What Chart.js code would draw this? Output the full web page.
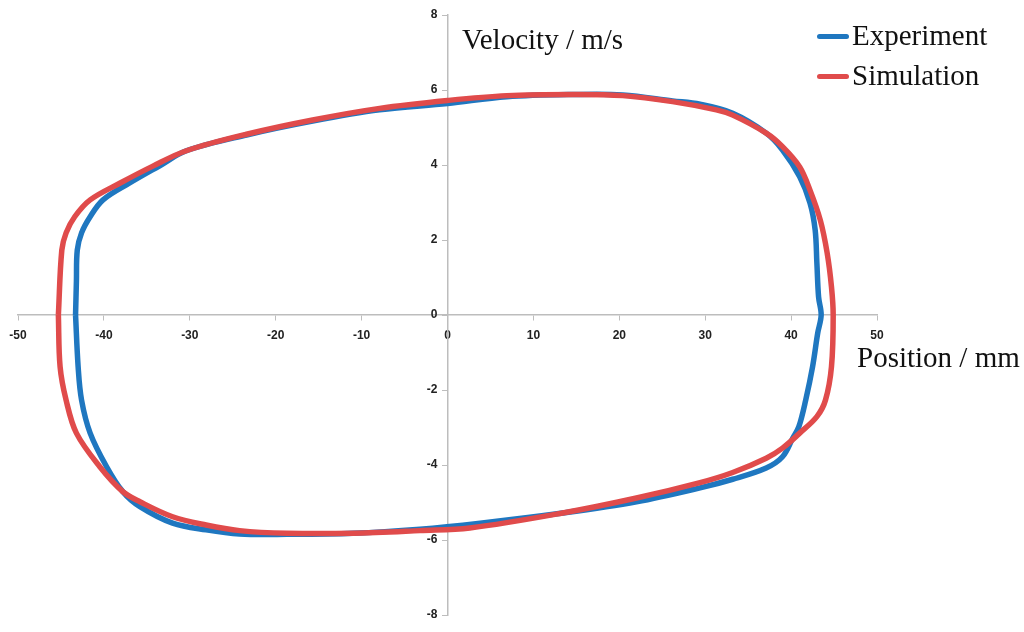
<!DOCTYPE html>
<html>
<head>
<meta charset="utf-8">
<script src="https://cdn.jsdelivr.net/npm/chart.js@4.4.1/dist/chart.umd.min.js"></script>
<style>
  html, body { margin: 0; padding: 0; background: #fff; }
  #wrap { position: relative; width: 1024px; height: 632px; }
  #myChart { position: absolute; left: 0; top: 0; }
  .lbl { position: absolute; font-family: "Liberation Serif", "Times New Roman", serif; font-size: 29px; line-height: 1; color: #111; white-space: nowrap; }
  .key { position: absolute; width: 32px; height: 5px; border-radius: 3px; }
</style>
</head>
<body>
<div id="wrap">
  <canvas id="myChart" width="1024" height="632"></canvas>
  <div class="lbl" style="left:462px; top:25px;">Velocity / m/s</div>
  <div class="lbl" style="left:857px; top:343px;">Position / mm</div>
  <div class="key" style="left:817px; top:34px; background:#1f77c0;"></div>
  <div class="lbl" style="left:852px; top:21px;">Experiment</div>
  <div class="key" style="left:817px; top:74px; background:#e04b4b;"></div>
  <div class="lbl" style="left:852px; top:61px;">Simulation</div>
</div>
<script>
// Experiment loop, position (mm) / velocity (m/s)
const expX = [-43.3, -43.2, -43.1, -42.6, -41.6, -40.1, -37.0, -33.5, -30.4, -23.4, -15.7, -7.9, 0, 6.9, 14.6, 20.4, 26.2, 29.4, 33.2, 37.1, 39.0, 41.0, 42.2, 42.8, 43.0, 43.2, 43.5, 43.1, 42.5, 41.7, 40.9, 40.2, 39.0, 37.1, 33.2, 29.4, 22.0, 13.4, 3.8, -3.2, -11.0, -18.7, -24.2, -28.1, -32.0, -35.8, -37.8, -39.7, -41.6, -42.6, -43.0, -43.3];
const expY = [0, 0.9, 1.73, 2.19, 2.62, 3.07, 3.52, 3.98, 4.38, 4.8, 5.17, 5.47, 5.64, 5.82, 5.88, 5.87, 5.71, 5.62, 5.38, 4.85, 4.4, 3.69, 2.99, 2.27, 1.39, 0.48, 0, -0.48, -1.38, -2.27, -2.98, -3.28, -3.78, -4.08, -4.38, -4.61, -4.98, -5.28, -5.55, -5.71, -5.82, -5.85, -5.84, -5.73, -5.55, -5.11, -4.71, -4.04, -3.15, -2.27, -1.38, 0];

// Simulation loop
const simX = [-45.3, -44.9, -44.4, -43.4, -41.6, -38.1, -34.3, -30.4, -23.4, -15.7, -7.9, 0, 6.9, 14.6, 20.4, 26.2, 31.3, 33.2, 37.1, 39.0, 41.0, 42.2, 43.4, 44.2, 44.7, 44.9, 44.7, 44.0, 43.0, 41.0, 39.0, 37.1, 33.2, 29.4, 22.0, 13.4, 2.6, -3.2, -11.0, -18.7, -24.2, -28.1, -32.0, -35.8, -37.8, -40.5, -43.2, -44.4, -45.1, -45.3];
const simY = [0, 1.73, 2.19, 2.62, 3.07, 3.52, 3.97, 4.38, 4.82, 5.2, 5.51, 5.72, 5.85, 5.88, 5.85, 5.69, 5.47, 5.33, 4.85, 4.49, 3.95, 3.33, 2.53, 1.65, 0.75, 0, -1.38, -2.27, -2.71, -3.15, -3.55, -3.82, -4.2, -4.47, -4.88, -5.28, -5.68, -5.75, -5.82, -5.82, -5.75, -5.6, -5.38, -4.98, -4.71, -4.04, -3.15, -2.27, -1.38, 0];

const xTicksMin = -50, xTicksMax = 50, xStep = 10;
const yTicksMin = -8, yTicksMax = 8, yStep = 2;

function toPoints(xs, ys) {
    return xs.map((x, i) => ({ x: x, y: ys[i] }));
}

function chart() {
    let ctx = document.getElementById('myChart').getContext('2d');
    let tickFont = { family: 'Liberation Sans', size: 12, weight: 'bold' };
    new Chart(ctx, {
        type: 'scatter',
        data: {
            datasets: [{
                label: 'Experiment',
                data: toPoints(expX, expY),
                showLine: true,
                borderColor: '#1f77c0',
                borderWidth: 5.5,
                pointRadius: 0,
                tension: 0.35,
                fill: false,
                order: 2
            }, {
                label: 'Simulation',
                data: toPoints(simX, simY),
                showLine: true,
                borderColor: '#e04b4b',
                borderWidth: 5.5,
                pointRadius: 0,
                tension: 0.35,
                fill: false,
                order: 1
            }]
        },
        options: {
            responsive: false,
            animation: false,
            layout: {
                padding: { left: 18, right: 147, top: 15, bottom: 17 }
            },
            plugins: {
                legend: { display: false },
                tooltip: { enabled: false }
            },
            scales: {
                x: {
                    type: 'linear',
                    position: { y: 0 },
                    min: xTicksMin,
                    max: xTicksMax,
                    ticks: { stepSize: xStep, color: '#222', font: tickFont, padding: 8, maxRotation: 0 },
                    grid: { drawOnChartArea: false, drawTicks: true, tickLength: 5, tickColor: '#bdbdbd' },
                    border: { display: true, color: '#bdbdbd', width: 1.5 }
                },
                y: {
                    type: 'linear',
                    position: { x: 0 },
                    min: yTicksMin,
                    max: yTicksMax,
                    // centred axis ignores padding, so push the label off the axis
                    ticks: { stepSize: yStep, color: '#222', font: tickFont, callback: (v) => v + '   ' },
                    grid: { drawOnChartArea: false, drawTicks: true, tickLength: 5, tickColor: '#bdbdbd' },
                    border: { display: true, color: '#bdbdbd', width: 1.5 }
                }
            }
        }
    });
}

window.addEventListener('DOMContentLoaded', (event) => {
    chart();
});
</script>
</body>
</html>
